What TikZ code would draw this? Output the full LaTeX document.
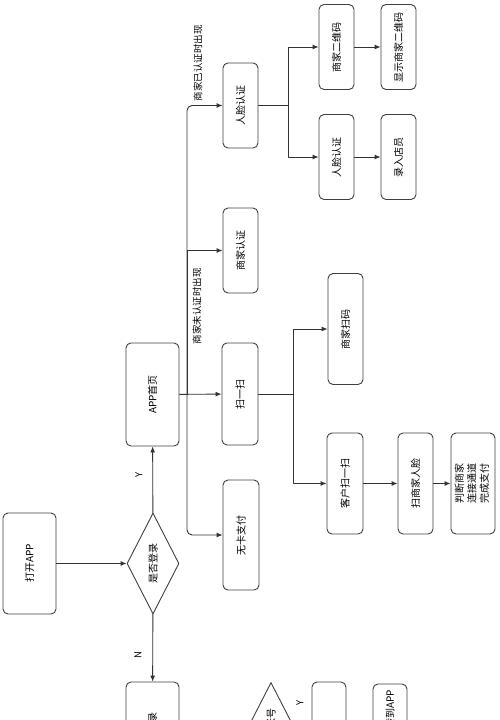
\documentclass[tikz,border=0pt]{standalone}
\usepackage{fontspec}
\setmainfont{Noto Sans CJK SC}
\usetikzlibrary{shapes.geometric,arrows.meta}
\newcommand{\vt}[1]{\rotatebox{90}{#1}}

\begin{document}
\begin{tikzpicture}[x=1pt, y=-1pt, line width=0.9pt, line join=round,
  font=\fontsize{10}{12.5}\selectfont,
  box/.style={draw=black!75, fill=white, rounded corners=5pt, inner sep=0pt, minimum width=35, minimum height=85},
  decide/.style={draw=black!75, fill=white, diamond, aspect=0.52, inner sep=0pt, minimum width=52, minimum height=101},
  flow/.style={draw=black!80, -{Latex[length=6pt,width=5pt]}},
  wire/.style={draw=black!80},
  tag/.style={inner sep=0pt, font=\fontsize{9.5}{11}\selectfont}]

  %% ════ 主流程 ════
  \node[box, minimum width=53, minimum height=101] (open) at (29.5,563.5) {\vt{打开APP}};
  \node[decide] (login) at (153,563.5) {\vt{是否登录}};
  \node[box, minimum width=53, minimum height=103] (home) at (152.5,394.5) {\vt{APP首页}};
  \node[box, minimum width=53, minimum height=101] (reg) at (152.5,732.5) {\vt{注册登录}};

  %% ════ 首页功能 ════
  \node[box, minimum width=36, minimum height=102] (scan) at (240,394) {\vt{扫一扫}};
  \node[box, minimum width=36, minimum height=110] (nocard) at (241,535) {\vt{无卡支付}};
  \node[box] (mcert) at (240.5,250.5) {\vt{商家认证}};
  \node[box] (face) at (240.5,105.5) {\vt{人脸认证}};

  %% ════ 认证分支 ════
  \node[box] (mqr) at (336.5,47) {\vt{商家二维码}};
  \node[box] (showqr) at (398.5,47) {\vt{显示商家二维码}};
  \node[box] (face2) at (336.5,157) {\vt{人脸认证}};
  \node[box] (clerk) at (398.5,157) {\vt{录入店员}};

  %% ════ 扫码分支 ════
  \node[box, minimum height=111] (mscan) at (345.5,329) {\vt{商家扫码}};
  \node[box, minimum width=36, minimum height=101] (cscan) at (345,483.5) {\vt{客户扫一扫}};
  \node[box, minimum height=101] (sface) at (415.5,483.5) {\vt{扫商家人脸}};
  \node[box, minimum width=44, minimum height=101] (pay) at (473,483.5)
    {\vt{\begin{tabular}{@{}c@{}}判断商家\\连接通道\\完成支付\end{tabular}}};

  %% ════ 底部（被裁掉一半）════
  \node[decide] (acct) at (271,733) {\vt{是否有账号}};
  \node[box, minimum width=34, minimum height=101] (signin) at (329,732.5) {\vt{登录}};
  \node[box, minimum width=34, minimum height=101] (back) at (390,734.5) {\vt{登录成功跳转到APP}};

  %% ════ 连线 ════
  \draw[flow] (open) -- (login);
  \draw[flow] (login) -- (home);
  \draw[flow] (login) -- (reg);
  \draw[flow] (home) -- (scan);

  \coordinate (bus) at (187,394);
  \draw[flow, rounded corners=5pt] (bus) |- (face);
  \draw[flow] (bus) |- (mcert);
  \draw[flow, rounded corners=5pt] (bus) |- (nocard);

  \coordinate (fbus) at (288,105.5);
  \draw[wire] (face) -- (fbus);
  \draw[flow] (fbus) |- (mqr);
  \draw[flow] (fbus) |- (face2);
  \draw[flow] (mqr) -- (showqr);
  \draw[flow] (face2) -- (clerk);

  \coordinate (sbus) at (293,394);
  \draw[wire] (scan) -- (sbus);
  \draw[flow] (sbus) |- (mscan);
  \draw[flow] (sbus) |- (cscan);
  \draw[flow] (cscan) -- (sface);
  \draw[flow] (sface) -- (pay);

  \draw[flow] (acct) -- (signin);

  %% ════ 标签 ════
  \node[tag] (yes) at (139,475) {\vt{Y}};
  \node[tag] (no) at (138,655) {\vt{N}};
  \node[tag] (yes2) at (300,703) {\vt{Y}};
  \node[tag] (certon) at (198,63) {\vt{商家已认证时出现}};
  \node[tag] (certoff) at (197,306) {\vt{商家未认证时出现}};

  % 钉死画布
  \pgfresetboundingbox
  \path[use as bounding box] (0,0) rectangle (500,720);
\end{tikzpicture}
\end{document}
